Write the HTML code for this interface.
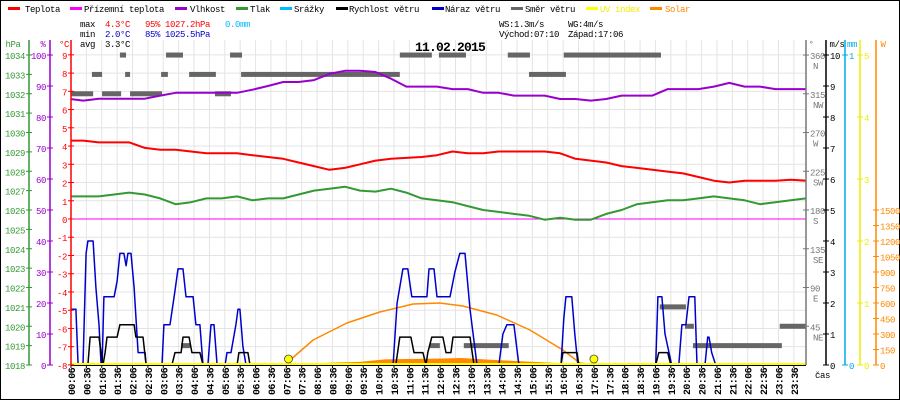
<!DOCTYPE html>
<html><head><meta charset="utf-8"><style>
html,body{margin:0;padding:0;background:#fff}
svg{display:block;font-family:"Liberation Mono",monospace;font-size:9px;letter-spacing:-0.4px}
</style></head><body>
<svg id="c" width="900" height="400" viewBox="0 0 900 400" xmlns="http://www.w3.org/2000/svg">
<rect x="0.5" y="0.5" width="899" height="399" fill="#fff" stroke="#000"/>
<g id="grid"></g>
<g id="series"></g>
<g id="axes"></g>
<g>
 <g><rect x="8" y="7" width="12" height="3" fill="#f00"/><text x="25" y="12">Teplota</text></g>
 <g><rect x="70" y="7" width="12" height="3" fill="#f0f"/><text x="84" y="12">Přízemní teplota</text></g>
 <g><rect x="175" y="7" width="12" height="3" fill="#90c"/><text x="190" y="12">Vlhkost</text></g>
 <g><rect x="236" y="7" width="12" height="3" fill="#393"/><text x="250" y="12">Tlak</text></g>
 <g><rect x="280" y="7" width="12" height="3" fill="#0bf"/><text x="294" y="12">Srážky</text></g>
 <g><rect x="336" y="7" width="12" height="3" fill="#000"/><text x="349" y="12">Rychlost větru</text></g>
 <g><rect x="432" y="7" width="12" height="3" fill="#00c"/><text x="445" y="12">Náraz větru</text></g>
 <g><rect x="511" y="7" width="12" height="3" fill="#666"/><text x="525" y="12">Směr větru</text></g>
 <g><rect x="586" y="7" width="12" height="3" fill="#ff0"/><text x="600" y="12" fill="#ee0">UV index</text></g>
 <g><rect x="650" y="7" width="12" height="3" fill="#f80"/><text x="665" y="12" fill="#f80">Solar</text></g>
</g>
<g>
 <text x="80" y="27">max</text><text x="105" y="27" fill="#f00">4.3°C</text><text x="145" y="27" fill="#f00">95%</text><text x="165" y="27" fill="#f00">1027.2hPa</text><text x="225" y="27" fill="#0bf">0.0mm</text>
 <text x="80" y="37">min</text><text x="105" y="37" fill="#00c">2.0°C</text><text x="145" y="37" fill="#00c">85%</text><text x="165" y="37" fill="#00c">1025.5hPa</text>
 <text x="80" y="47">avg</text><text x="105" y="47">3.3°C</text>
 <text x="499" y="27">WS:1.3m/s</text><text x="568" y="27">WG:4m/s</text>
 <text x="499" y="37">Východ:07:10</text><text x="568" y="37">Západ:17:06</text>
</g>
<text x="450" y="51" text-anchor="middle" font-size="13" letter-spacing="-0.8" font-weight="bold">11.02.2015</text>
</svg>
<script>
const hours=[0,0.5,1,1.5,2,2.5,3,3.5,4,4.5,5,5.5,6,6.5,7,7.5,8,8.5,9,9.5,10,10.5,11,11.5,12,12.5,13,13.5,14,14.5,15,15.5,16,16.5,17,17.5,18,18.5,19,19.5,20,20.5,21,21.5,22,22.5,23,23.5,24];
const temperature=[4.3,4.3,4.2,4.2,4.2,3.9,3.8,3.8,3.7,3.6,3.6,3.6,3.5,3.4,3.3,3.1,2.9,2.7,2.8,3.0,3.2,3.3,3.35,3.4,3.5,3.7,3.6,3.6,3.7,3.7,3.7,3.7,3.6,3.3,3.2,3.1,2.9,2.8,2.7,2.6,2.5,2.3,2.1,2.0,2.1,2.1,2.1,2.15,2.1];
const pressure=[1026.7,1026.7,1026.7,1026.8,1026.9,1026.8,1026.6,1026.3,1026.4,1026.6,1026.6,1026.7,1026.5,1026.6,1026.6,1026.8,1027.0,1027.1,1027.2,1027.0,1026.95,1027.1,1026.9,1026.6,1026.5,1026.4,1026.2,1026.0,1025.9,1025.8,1025.7,1025.5,1025.6,1025.5,1025.5,1025.8,1026.0,1026.3,1026.4,1026.5,1026.5,1026.6,1026.7,1026.6,1026.5,1026.3,1026.4,1026.5,1026.6];
const humidity=[85.9,85.3,85.9,85.9,85.9,85.9,86.9,87.8,87.8,87.8,87.8,87.8,88.8,90,91.3,91.3,91.9,93.9,94.9,94.9,94.5,92.4,89.8,89.8,89.8,89.0,89.0,87.8,87.8,86.9,86.9,86.9,85.8,85.8,85.3,85.8,86.9,86.9,86.9,89.0,89.0,89.0,89.8,91.0,89.8,89.8,89.0,89.0,89.0];
const gustT=[0.10,0.26,0.33,0.49,0.59,0.65,0.82,0.91,1.01,1.08,1.11,1.17,1.50,1.60,1.69,1.82,1.89,1.95,2.05,2.15,2.28,2.51,2.54,3.06,3.12,3.32,3.48,3.58,3.74,3.84,4.07,4.16,4.29,4.39,4.55,4.65,4.75,4.85,5.11,5.17,5.30,5.46,5.53,5.59,5.69,5.79,10.57,10.70,10.89,11.05,11.18,11.67,11.74,11.90,12.00,12.42,12.58,12.74,12.91,13.07,13.30,14.01,14.14,14.27,14.50,14.66,16.03,16.12,16.19,16.38,16.48,16.58,19.11,19.18,19.31,19.41,19.63,19.86,19.96,20.09,20.19,20.38,20.45,20.71,20.80,20.84,20.93,21.06,23.99];
const gustV=[1.8,1.8,0,0,3.6,4,4,2.5,1.3,0,0,2.2,2.2,2.7,3.6,3.6,3.2,3.6,3.6,2.5,0.4,0.4,0,0,1.3,1.3,2.4,3.1,3.1,2.2,2.2,1.3,1.3,0,0,1.3,1.3,0,0,0.4,0.4,1.3,1.8,1.8,0.6,0,0,2.0,3.1,3.1,2.2,2.2,3.1,3.1,2.2,2.2,3.0,3.6,3.6,1.8,0,0,1.0,1.3,1.3,0,0,1.5,2.2,2.2,1.0,0,0,2.2,2.2,1.0,0,0,1.3,1.3,2.2,2.2,0,0,0.9,0.9,0.4,0,0];
const speedT=[0.10,0.65,0.72,1.01,1.08,1.14,1.21,1.27,1.60,1.69,2.15,2.21,2.44,2.54,3.38,3.48,3.68,3.74,3.94,4.03,4.29,4.39,5.50,5.56,5.85,5.92,10.66,10.79,11.15,11.25,11.54,11.64,11.70,11.83,12.19,12.29,12.45,12.52,13.07,13.20,16.03,16.09,16.55,16.61,19.11,19.21,19.50,19.60,23.99];
const speedV=[0,0,0.9,0.9,0.4,0,0.4,0.9,0.9,1.3,1.3,0.9,0.9,0,0,0.4,0.4,0.9,0.9,0.4,0.4,0,0,0.4,0.4,0,0,0.9,0.9,0.4,0.4,0,0.4,0.9,0.9,0.4,0.4,0.9,0.9,0,0,0.4,0.4,0,0,0.4,0.4,0,0];
const dirStart=[1.69,3.19,5.27,10.79,12.06,14.30,16.12,0.78,1.86,3.03,3.94,5.63,14.99,0.10,1.11,2.02,4.78,3.68,11.77,12.87,20.32,19.24,20.06,23.14];
const dirEnd=[1.89,3.74,5.66,11.83,12.94,15.02,19.28,1.11,2.02,3.25,4.81,10.79,16.19,0.82,1.73,3.06,5.30,3.97,12.09,14.33,23.21,20.09,20.35,23.99];
const dirDeg=[360,360,360,360,360,360,360,337.5,337.5,337.5,337.5,337.5,337.5,315,315,315,315,22.5,22.5,22.5,22.5,67.5,45,45];
const solarMaxT=[7.17,7.30,7.97,9.07,10.14,11.22,12.09,12.84,13.94,15.02,16.09,16.64,17.13];
const solarMaxV=[0,68,242,406,513,590,600,571,484,339,145,19,0];
const solarT=[7.0,7.5,8.5,9.5,10.3,11.0,12.0,12.8,13.8,14.8,15.8,16.5,17.0];
const solarV=[0,10,22,30,55,58,62,68,50,35,20,12,0];
const sunEvents=[7.17,17.1];
const tempTicks=[9,8,7,6,5,4,3,2,1,0,-1,-2,-3,-4,-5,-6,-7,-8];
const hpaTicks=[1034,1033,1032,1031,1030,1029,1028,1027,1026,1025,1024,1023,1022,1021,1020,1019,1018];
const humTicks=[100,90,80,70,60,50,40,30,20,10,0];
const dirTicks=[360,315,270,225,180,135,90,45];
const dirNames=["N","NW","W","SW","S","SE","E","NE"];
const msTicks=[10,9,8,7,6,5,4,3,2,1,0];
const uvTicks=[5,4,3,2,1,0];
const wTicks=[1500,1350,1200,1050,900,750,600,450,300,150,0];
const timeLabels=["00:06","00:36","01:06","01:36","02:06","02:36","03:06","03:36","04:06","04:36","05:06","05:36","06:06","06:36","07:06","07:36","08:06","08:36","09:06","09:36","10:06","10:36","11:06","11:36","12:06","12:36","13:06","13:36","14:06","14:36","15:06","15:36","16:06","16:36","17:06","17:36","18:06","18:36","19:06","19:36","20:06","20:36","21:06","21:36","22:06","22:36","23:06","23:36"];

const X0=71,X1=806,YT=40,YB=365;
const NS='http://www.w3.org/2000/svg';
const xT=h=>X0+(h*60-6)/30*15.38;
const yC=c=>219-c*18.24;
const yH=p=>55+(1034-p)*19.375;
const yP=p=>55+(100-p)*3.1;
const yMS=v=>365-v*31;
const yDeg=d=>365-d*0.861;
const yW=w=>365-w*155/1500;
const yUV=u=>365-u*62;
function mk(tag,attrs,parent){const e=document.createElementNS(NS,tag);for(const k in attrs)e.setAttribute(k,attrs[k]);parent.appendChild(e);return e;}
const grid=document.getElementById('grid'),ser=document.getElementById('series'),ax=document.getElementById('axes');
const clip=mk('clipPath',{id:'pc'},document.getElementById('c'));mk('rect',{x:X0,y:YT,width:X1-X0,height:YB-YT},clip);

timeLabels.forEach((lab,i)=>{const x=X0+i*15.38;
 const l=mk('line',{x1:x,y1:YT,x2:x,y2:YB,stroke:'#e4e4e4'},grid);
 
 
 const tk=mk('line',{x1:x,y1:YB,x2:x,y2:YB+3,stroke:'#000'},ax);
 
 
 const t=mk('text',{x:0,y:0,transform:`translate(${x+4},395) rotate(-90)`,'font-size':'10','letter-spacing':'-0.6','font-weight':'bold'},ax);t.textContent=lab;
 
 
});
tempTicks.forEach(c=>{const y=yC(c);
 const l=mk('line',{x1:X0,y1:y,x2:X1,y2:y,stroke:'#e4e4e4'},grid);
 
 
});

function poly(xs,ys,color,w,name){const pts=xs.map((x,i)=>x.toFixed(1)+','+ys[i].toFixed(1)).join(' ');
 const p=mk('polyline',{points:pts,fill:'none',stroke:color,'stroke-width':w,'clip-path':'url(#pc)','stroke-linejoin':'round'},ser);
 
 return p;}

{const pts=[xT(solarT[0])+','+YB].concat(solarT.map((t,i)=>xT(t)+','+yW(solarV[i]))).concat([xT(solarT[solarT.length-1])+','+YB]).join(' ');
 const a=mk('polygon',{points:pts,fill:'#f80'},ser);
 
 }
poly(solarMaxT.map(xT),solarMaxV.map(yW),'#f80',1.5,'solar-theoretical-line');
{const l=mk('line',{x1:X0,y1:yC(0),x2:X1,y2:yC(0),stroke:'#f0f','stroke-width':1},ser);
 
 }
dirDeg.forEach((d,i)=>{const y=yDeg(d);
 const r=mk('rect',{x:xT(dirStart[i]),y:y-2.5,width:xT(dirEnd[i])-xT(dirStart[i]),height:5,fill:'#666','clip-path':'url(#pc)'},ser);
 
 });
poly(gustT.map(xT),gustV.map(yMS),'#00c',1.5,'wind-gust-line');
poly(speedT.map(xT),speedV.map(yMS),'#000',1.5,'wind-speed-line');
poly(hours.map(xT),pressure.map(yH),'#393',2,'pressure-line');
poly(hours.map(xT),humidity.map(yP),'#90c',2,'humidity-line');
poly(hours.map(xT),temperature.map(yC),'#f00',2,'temperature-line');
{const l=mk('line',{x1:X0,y1:yUV(0)-1,x2:X1,y2:yUV(0)-1,stroke:'#ff0','stroke-width':2},ser);
 
 }
sunEvents.forEach(t=>{const c=mk('circle',{cx:xT(t),cy:359,r:4,fill:'#ff0',stroke:'#444','stroke-width':0.8},ser);
 
 });
{const l=mk('line',{x1:X0,y1:YB+0.5,x2:X1,y2:YB+0.5,stroke:'#000'},ax);
 
 }

function vaxis(x,color,ticks,yf,anchorRight,name,title,tx){
 const l=mk('line',{x1:x,y1:YT,x2:x,y2:YB,stroke:color,'stroke-width':1.5},ax);
 
 
 ticks.forEach(v=>{const y=yf(v);
  mk('line',{x1:x-3,y1:y,x2:x+3,y2:y,stroke:color},ax);
  const t=mk('text',{x:anchorRight?x-4:x+4,y:y+4,fill:color,'text-anchor':anchorRight?'end':'start'},ax);t.textContent=v;
  
  });
 const tt=mk('text',{x:tx,y:47,fill:color,'text-anchor':'middle'},ax);tt.textContent=title;
 
 
}
vaxis(29,'#393',hpaTicks,yH,true,'pressure-axis','hPa',13);
vaxis(50,'#90c',humTicks,yP,true,'humidity-axis','%',43);
vaxis(71,'#f00',tempTicks,yC,true,'temperature-axis','°C',64);
vaxis(806,'#777',dirTicks,yDeg,false,'direction-axis','°',811);
vaxis(826,'#000',msTicks,yMS,false,'wind-speed-axis','m/s',837);
vaxis(845,'#0ae',[1,0],v=>yMS(v*10),false,'rain-axis','mm',852);
vaxis(860,'#ee0',uvTicks,yUV,false,'uv-axis','',865);
vaxis(876,'#f80',wTicks,yW,false,'solar-axis','W',883);
dirNames.forEach((n,i)=>{const t=mk('text',{x:813,y:yDeg(dirTicks[i])+14,fill:'#777'},ax);t.textContent=n;
 
 });
{const t=mk('text',{x:815,y:378},ax);t.textContent='čas';
 
 }
</script>
</body></html>
